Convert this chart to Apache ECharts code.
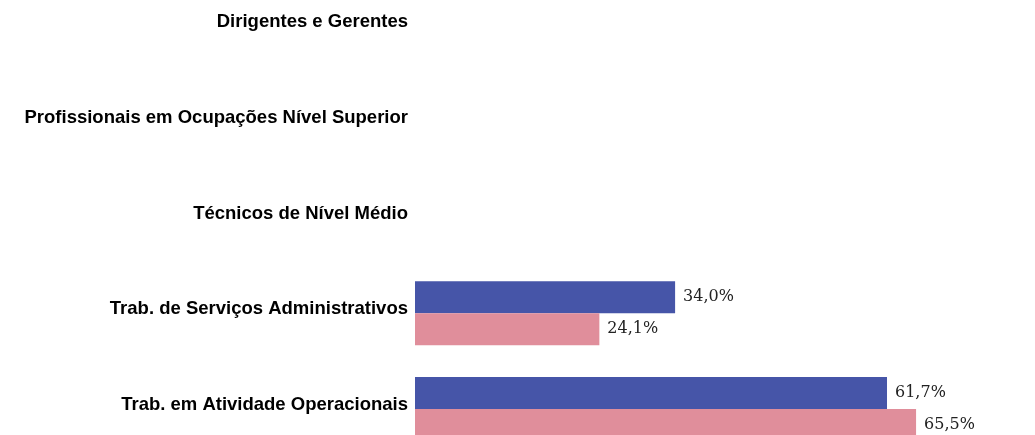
<!DOCTYPE html>
<html>
<head>
<meta charset="utf-8">
<script src="https://cdn.jsdelivr.net/npm/echarts@6/dist/echarts.min.js"></script>
<style>
  html, body { margin: 0; padding: 0; background: #fff; overflow: hidden; }
  /* o gráfico original está cortado em cima e em baixo */
  #chart { position: absolute; left: 0; top: -22px; width: 1035px; height: 479px; }
</style>
</head>
<body>
<div id="chart"></div>
<script>
// categorias (de cima para baixo)
const categories = [
  'Dirigentes e Gerentes',
  'Profissionais em Ocupações Nível Superior',
  'Técnicos de Nível Médio',
  'Trab. de Serviços Administrativos',
  'Trab. em Atividade Operacionais'
]
// valores em %, sem barra nas três primeiras
const serieAzul = [null, null, null, 34.0, 61.7]
const serieRosa = [null, null, null, 24.1, 65.5]

const chart = echarts.init(document.getElementById('chart'))

const fmt = p => p.value.toFixed(1).replace('.', ',') + '%'
const labelCfg = {
  show: true, position: 'right', distance: 8,
  fontFamily: 'DejaVu Serif', fontSize: 16, color: '#222',
  formatter: fmt
}

chart.setOption({
  animation: false,
  grid: { left: 415, right: 8, top: 0, bottom: 0 },
  xAxis: {
    type: 'value', min: 0, max: 80,
    show: false
  },
  yAxis: {
    type: 'category',
    data: categories,
    inverse: true,
    axisLine: { show: false },
    axisTick: { show: false },
    axisLabel: {
      margin: 7,
      fontFamily: 'Liberation Sans', fontWeight: 'bold', fontSize: 18.5, color: '#000',
      verticalAlign: 'bottom', lineHeight: 8
    }
  },
  series: [
    {
      type: 'bar', data: serieAzul, barWidth: 32, barGap: '0%',
      itemStyle: { color: '#4655A8' },
      label: labelCfg
    },
    {
      type: 'bar', data: serieRosa, barWidth: 32, barGap: '0%',
      itemStyle: { color: '#E08E9B' },
      label: labelCfg
    }
  ]
})
</script>
</body>
</html>
